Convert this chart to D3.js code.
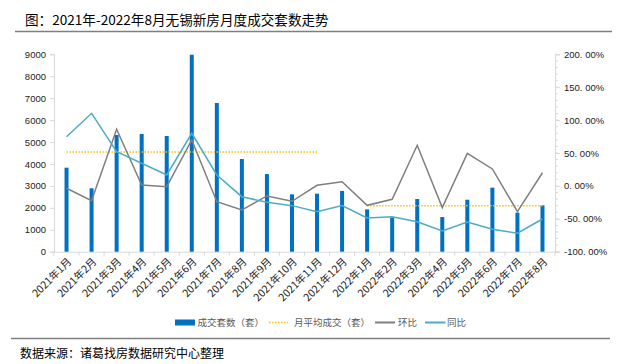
<!DOCTYPE html>
<html><head><meta charset="utf-8">
<script src="https://cdn.jsdelivr.net/npm/d3@7"></script>
<style>
body{margin:0;background:#fff;}
svg{display:block;}
</style></head>
<body>
<svg id="c" width="630" height="364"></svg>
<script>
const categories = ["2021年1月","2021年2月","2021年3月","2021年4月","2021年5月","2021年6月","2021年7月","2021年8月","2021年9月","2021年10月","2021年11月","2021年12月","2022年1月","2022年2月","2022年3月","2022年4月","2022年5月","2022年6月","2022年7月","2022年8月"];
const deals = [3830,2890,5320,5365,5275,8980,6780,4225,3540,2615,2645,2770,1930,1560,2400,1580,2370,2920,1780,2115];
const monthlyAvg = [4545,4545,4545,4545,4545,4545,4545,4545,4545,4545,4545,null,2097,2097,2097,2097,2097,2097,2097,2097];
const mom = [-3.6,-22.5,86,1.4,-1.2,69.8,-24,-36.6,-15.3,-23.4,0.9,6.4,-29.5,-20.4,61.7,-33,49.5,25.7,-39,20];
const yoy = [74.8,110.3,52,34.4,16.6,80,16.6,-16.4,-25,-30,-39.2,-30,-48.8,-46.8,-54.4,-68.5,-55,-66,-72,-50.3];
const leftTicks = [0,1000,2000,3000,4000,5000,6000,7000,8000,9000];
const rightTicks = [-100,-50,0,50,100,150,200];
const rightTickLabels = ["-100. 00%","-50. 00%","0. 00%","50. 00%","100. 00%","150. 00%","200. 00%"];
const legendLabels = ["成交套数（套）","月平均成交（套）","环比","同比"];
const titleText = "图：2021年-2022年8月无锡新房月度成交套数走势";
const sourceText = "数据来源：诸葛找房数据研究中心整理";

const svg = d3.select("#c");
const L = 54, R = 555, T = 54.3, B = 251.7;
const cjk = "'Noto Sans CJK SC','Noto Sans',sans-serif";
const num = "'Liberation Sans',Arial,sans-serif";

const x = d3.scaleBand().domain(categories).range([L, R]).padding(0);
const yL = d3.scaleLinear().domain([0, 9000]).range([B, T]);
const yR = d3.scaleLinear().domain([-100, 200]).range([B, T]);

// title
svg.append("text").attr("x", 25).attr("y", 25).attr("font-family", cjk).attr("font-size", 13.6)
  .attr("fill", "#000").text(titleText);
svg.append("line").attr("x1", 15).attr("x2", 612).attr("y1", 31.5).attr("y2", 31.5)
  .attr("stroke", "#7f7f7f").attr("stroke-width", 1.5);

// left axis
const gl = svg.append("g").attr("transform", `translate(${L},0)`)
  .call(d3.axisLeft(yL).tickValues(leftTicks).tickSize(4).tickPadding(4).tickFormat(d3.format("d")));
gl.select(".domain").attr("stroke", "#d9d9d9");
gl.selectAll(".tick line").attr("stroke", "#d9d9d9");
gl.selectAll("text").attr("font-family", num).attr("font-size", 9.5).attr("fill", "#222");

// right axis minor ticks
const minor = d3.range(-100, 201, 10);
svg.append("g").selectAll("line").data(minor).join("line")
  .attr("x1", R).attr("x2", R + 3).attr("y1", d => yR(d)).attr("y2", d => yR(d))
  .attr("stroke", "#d9d9d9");
const gr = svg.append("g").attr("transform", `translate(${R},0)`)
  .call(d3.axisRight(yR).tickValues(rightTicks).tickSize(5).tickPadding(4)
    .tickFormat((d, i) => rightTickLabels[i]));
gr.select(".domain").attr("stroke", "#d9d9d9");
gr.selectAll(".tick line").attr("stroke", "#d9d9d9");
gr.selectAll("text").attr("font-family", num).attr("font-size", 9.5).attr("fill", "#222");

// x axis
const gx = svg.append("g").attr("transform", `translate(0,${B})`)
  .call(d3.axisBottom(x).tickSize(0).tickFormat(""));
gx.select(".domain").attr("stroke", "#d9d9d9");
const bounds = categories.map(c => x(c)).concat([R]);
gx.selectAll(".bt").data(bounds).join("line").attr("class", "bt")
  .attr("x1", d => d).attr("x2", d => d).attr("y1", 0).attr("y2", 4).attr("stroke", "#d9d9d9");
svg.append("g").selectAll("text").data(categories).join("text")
  .attr("transform", d => `translate(${x(d) + x.bandwidth() / 2 + 3},${B + 8}) rotate(-45)`)
  .attr("text-anchor", "end").attr("dy", "0.35em")
  .attr("font-family", cjk).attr("font-size", 10.5).attr("fill", "#222").text(d => d);

// bars
const bw = 4;
svg.append("g").selectAll("rect").data(deals).join("rect")
  .attr("x", (d, i) => x(categories[i]) + x.bandwidth() / 2 - bw / 2)
  .attr("y", d => yL(d)).attr("width", bw).attr("height", d => B - yL(d))
  .attr("fill", "#0070c0");

// average line
const avgLine = d3.line().defined(d => d != null)
  .x((d, i) => x(categories[i]) + x.bandwidth() / 2).y(d => yL(d));
svg.append("path").datum(monthlyAvg).attr("d", avgLine).attr("fill", "none")
  .attr("stroke", "#ffc000").attr("stroke-width", 1.5).attr("stroke-dasharray", "1.5,1.5");

const pctLine = d3.line().x((d, i) => x(categories[i]) + x.bandwidth() / 2).y(d => yR(d));
svg.append("path").datum(mom).attr("d", pctLine).attr("fill", "none")
  .attr("stroke", "#7f7f7f").attr("stroke-width", 1.5);
svg.append("path").datum(yoy).attr("d", pctLine).attr("fill", "none")
  .attr("stroke", "#4bacc6").attr("stroke-width", 1.5);

// legend
const ly = 322.5;
const lg = svg.append("g").attr("font-family", cjk).attr("font-size", 9.5).attr("fill", "#595959");
lg.append("rect").attr("x", 175).attr("y", ly - 3).attr("width", 20).attr("height", 6).attr("fill", "#0070c0");
lg.append("text").attr("x", 197.5).attr("y", ly).attr("dy", "0.35em").text(legendLabels[0]);
lg.append("line").attr("x1", 269).attr("x2", 288).attr("y1", ly).attr("y2", ly)
  .attr("stroke", "#ffc000").attr("stroke-width", 1.5).attr("stroke-dasharray", "1.5,1.5");
lg.append("text").attr("x", 294).attr("y", ly).attr("dy", "0.35em").text(legendLabels[1]);
lg.append("line").attr("x1", 375).attr("x2", 395).attr("y1", ly).attr("y2", ly)
  .attr("stroke", "#7f7f7f").attr("stroke-width", 2);
lg.append("text").attr("x", 398).attr("y", ly).attr("dy", "0.35em").text(legendLabels[2]);
lg.append("line").attr("x1", 425).attr("x2", 445.5).attr("y1", ly).attr("y2", ly)
  .attr("stroke", "#4bacc6").attr("stroke-width", 2);
lg.append("text").attr("x", 447).attr("y", ly).attr("dy", "0.35em").text(legendLabels[3]);

// bottom separator and source
svg.append("line").attr("x1", 11).attr("x2", 610).attr("y1", 338.5).attr("y2", 338.5)
  .attr("stroke", "#7f7f7f").attr("stroke-width", 1.5);
svg.append("text").attr("x", 20).attr("y", 354).attr("dy", "0.35em").attr("font-family", cjk)
  .attr("font-size", 12).attr("fill", "#000").text(sourceText);
</script>
</body></html>
